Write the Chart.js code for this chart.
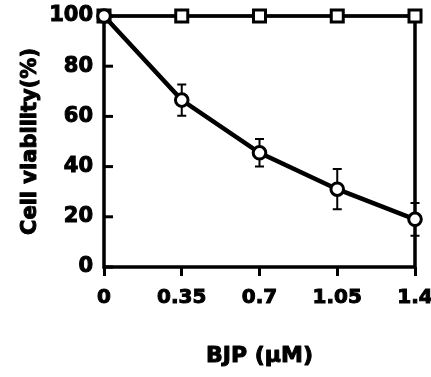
<!DOCTYPE html>
<html><head><meta charset="utf-8">
<script src="https://cdn.jsdelivr.net/npm/chart.js@4"></script>
<style>html,body{margin:0;padding:0;background:#fff}#wrap{width:431px;height:377px}</style>
</head><body><div id="wrap"><canvas id="c" width="431" height="377"></canvas></div>
<script>
const doses = [0, 0.35, 0.7, 1.05, 1.4];
const controlValues = [100, 100, 100, 100, 100];
const bjpValues = [100, 66.5, 45.5, 31, 19];
const bjpErrors = [0, 6.2, 5.5, 8, 6.5];
const xTickLabels = ['0', '0.35', '0.7', '1.05', '1.4'];
const yTickValues = [0, 20, 40, 60, 80, 100];
const xTitle = 'BJP (\u03bcM)';
const yTitle = 'Cell viability(%)';

const FONT = '"DejaVu Sans", sans-serif';

function heavyText(ctx, text, x, y, size, rot) {
  ctx.save();
  ctx.translate(x, y);
  if (rot) ctx.rotate(rot);
  ctx.font = 'bold ' + size + 'px ' + FONT;
  ctx.textAlign = 'center';
  ctx.textBaseline = 'middle';
  ctx.fillStyle = '#000';
  ctx.strokeStyle = '#000';
  ctx.lineWidth = 1;
  ctx.lineJoin = 'round';
  ctx.fillText(text, 0, 0);
  ctx.strokeText(text, 0, 0);
  ctx.restore();
}

const framePlugin = {
  id: 'frame',
  beforeDatasetsDraw(chart) {
    const {ctx, chartArea: a, scales: {x, y}} = chart;
    ctx.save();
    ctx.strokeStyle = '#000';
    ctx.lineWidth = 3.5;
    ctx.strokeRect(a.left, a.top, a.right - a.left, a.bottom - a.top);
    ctx.lineWidth = 3;
    yTickValues.forEach(v => {
      const py = y.getPixelForValue(v);
      ctx.beginPath(); ctx.moveTo(a.left, py); ctx.lineTo(a.left + 9, py); ctx.stroke();
    });
    ctx.lineWidth = 2;
    doses.forEach((d, i) => {
      if (!bjpErrors[i]) return;
      const px = x.getPixelForValue(d);
      const hi = y.getPixelForValue(bjpValues[i] + bjpErrors[i]);
      const lo = y.getPixelForValue(bjpValues[i] - bjpErrors[i]);
      ctx.beginPath();
      ctx.moveTo(px, hi); ctx.lineTo(px, lo);
      ctx.moveTo(px - 4.5, hi); ctx.lineTo(px + 4.5, hi);
      ctx.moveTo(px - 4.5, lo); ctx.lineTo(px + 4.5, lo);
      ctx.stroke();
    });
    ctx.restore();
  },
  afterDraw(chart) {
    const {ctx, chartArea: a} = chart;
    heavyText(ctx, xTitle, (a.left + a.right) / 2, 356, 22, 0);
    heavyText(ctx, yTitle, 31, (a.top + a.bottom) / 2, 21, -Math.PI / 2);
  }
};

new Chart(document.getElementById('c'), {
  type: 'line',
  data: {
    datasets: [
      {
        label: 'BJP',
        data: doses.map((d, i) => ({x: d, y: bjpValues[i]})),
        borderColor: '#000', borderWidth: 4.5,
        pointStyle: 'circle', pointRadius: 6.3, pointBorderWidth: 3,
        pointBackgroundColor: '#fff', pointBorderColor: '#000',
        tension: 0, clip: false, order: 1
      },
      {
        label: 'Control',
        data: doses.map((d, i) => ({x: d, y: controlValues[i]})),
        borderColor: '#000', borderWidth: 3,
        pointStyle: 'rect', pointRadius: 8.5, pointBorderWidth: 3,
        pointBackgroundColor: '#fff', pointBorderColor: '#000',
        tension: 0, clip: false, order: 2
      }
    ]
  },
  options: {
    responsive: false, animation: false,
    layout: {padding: {left: 0, right: 16, top: 16, bottom: 0}},
    plugins: {legend: {display: false}, tooltip: {enabled: false}},
    scales: {
      x: {
        type: 'linear', min: 0, max: 1.4,
        afterBuildTicks: s => { s.ticks = doses.map(v => ({value: v})); },
        afterFit: s => { s.height = 110; s.paddingLeft = 0; s.paddingRight = 0; },
        ticks: {
          autoSkip: false, maxRotation: 0, color: '#000', padding: 10,
          textStrokeColor: '#000', textStrokeWidth: 1,
          font: {family: FONT, size: 20, weight: 'bold'},
          callback: (v, i) => xTickLabels[i]
        },
        grid: {display: true, drawOnChartArea: false, drawTicks: true, tickLength: 9, color: '#000', lineWidth: 3},
        border: {display: false}
      },
      y: {
        type: 'linear', min: 0, max: 100,
        afterBuildTicks: s => { s.ticks = yTickValues.map(v => ({value: v})); },
        afterFit: s => { s.width = 104; s.paddingTop = 0; s.paddingBottom = 0; },
        ticks: {
          color: '#000', padding: 11,
          textStrokeColor: '#000', textStrokeWidth: 1,
          font: {family: FONT, size: 21, weight: 'bold'},
          callback: v => String(v)
        },
        grid: {display: true, drawOnChartArea: false, drawTicks: false},
        border: {display: false}
      }
    }
  },
  plugins: [framePlugin]
});
</script>
</body></html>
